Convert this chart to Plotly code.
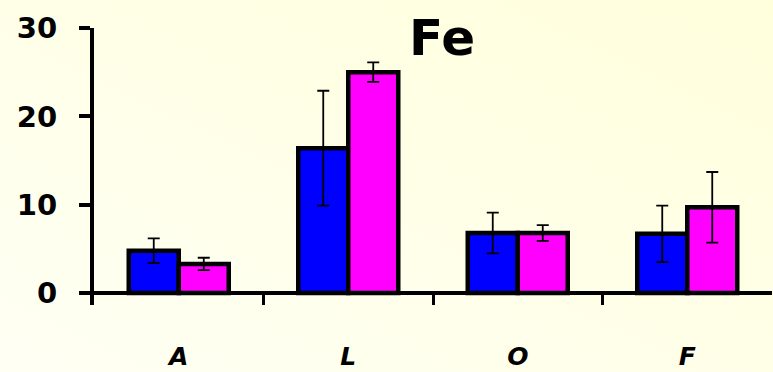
import base64
import plotly.graph_objects as go

# Fe concentration by site, two groups with standard deviations
categories = ["A", "L", "O", "F"]
group1_mean = [4.8, 16.4, 6.8, 6.7]
group1_err = [1.4, 6.5, 2.3, 3.2]
group2_mean = [3.3, 25.0, 6.8, 9.7]
group2_err = [0.7, 1.1, 0.9, 4.0]
y_ticks = [0, 10, 20, 30]

W, H = 773, 372
ML, MR, MT, MB = 94, 1, 28, 67
PW, PH = W - ML - MR, H - MT - MB
FONT = "DejaVu Sans"

# soft diagonal cream background
bg_svg = (
    f'<svg xmlns="http://www.w3.org/2000/svg" width="{W}" height="{H}" '
    f'viewBox="0 0 {W} {H}" preserveAspectRatio="none">'
    '<defs><linearGradient id="g" x1="0" y1="1" x2="1" y2="0">'
    '<stop offset="0" stop-color="#FFFFF4"/>'
    '<stop offset="1" stop-color="#FFFFDC"/>'
    '</linearGradient></defs>'
    f'<rect width="{W}" height="{H}" fill="url(#g)"/></svg>'
)
bg_uri = "data:image/svg+xml;base64," + base64.b64encode(bg_svg.encode()).decode()

err_style = dict(type="data", visible=True, color="black", thickness=1.8, width=6)

fig = go.Figure()
fig.add_trace(go.Bar(
    x=categories, y=group1_mean,
    error_y=dict(array=group1_err, **err_style),
    marker=dict(color="#0000FF", line=dict(color="black", width=4.5)),
    showlegend=False,
))
fig.add_trace(go.Bar(
    x=categories, y=group2_mean,
    error_y=dict(array=group2_err, **err_style),
    marker=dict(color="#FF00FF", line=dict(color="black", width=4.5)),
    showlegend=False,
))

fig.update_layout(
    width=W, height=H,
    margin=dict(l=ML, r=MR, t=MT, b=MB, autoexpand=False),
    paper_bgcolor="#FFFFEA",
    plot_bgcolor="rgba(0,0,0,0)",
    barmode="group",
    bargap=0.41,
    bargroupgap=0,
    images=[dict(source=bg_uri, xref="paper", yref="paper",
                 x=-ML / PW, y=1 + MT / PH,
                 sizex=W / PW, sizey=H / PH,
                 xanchor="left", yanchor="top",
                 sizing="stretch", layer="below")],
    xaxis=dict(
        type="category",
        automargin=False,
        showline=False, showgrid=False, zeroline=False,
        tickson="boundaries", ticks="inside", ticklen=12, tickwidth=3,
        tickcolor="black",
        ticklabelstandoff=34,
        tickfont=dict(family=FONT, size=25, color="black", style="italic", weight="bold"),
    ),
    yaxis=dict(
        range=[-1.35, 30],
        automargin=False,
        tickvals=y_ticks,
        showline=True, linecolor="black", linewidth=4,
        showgrid=False,
        zeroline=True, zerolinecolor="black", zerolinewidth=4,
        ticks="outside", ticklen=11, tickwidth=4, tickcolor="black",
        ticklabelstandoff=16,
        tickfont=dict(family=FONT, size=29, color="black", weight="bold"),
    ),
    annotations=[dict(
        text="<b>Fe</b>",
        x=(442 - ML) / PW, y=(MT + PH - 38) / PH,
        xref="paper", yref="paper", xanchor="center", yanchor="middle",
        showarrow=False, font=dict(family=FONT, size=50, color="black"),
    )],
)

fig.write_html("out.html")
